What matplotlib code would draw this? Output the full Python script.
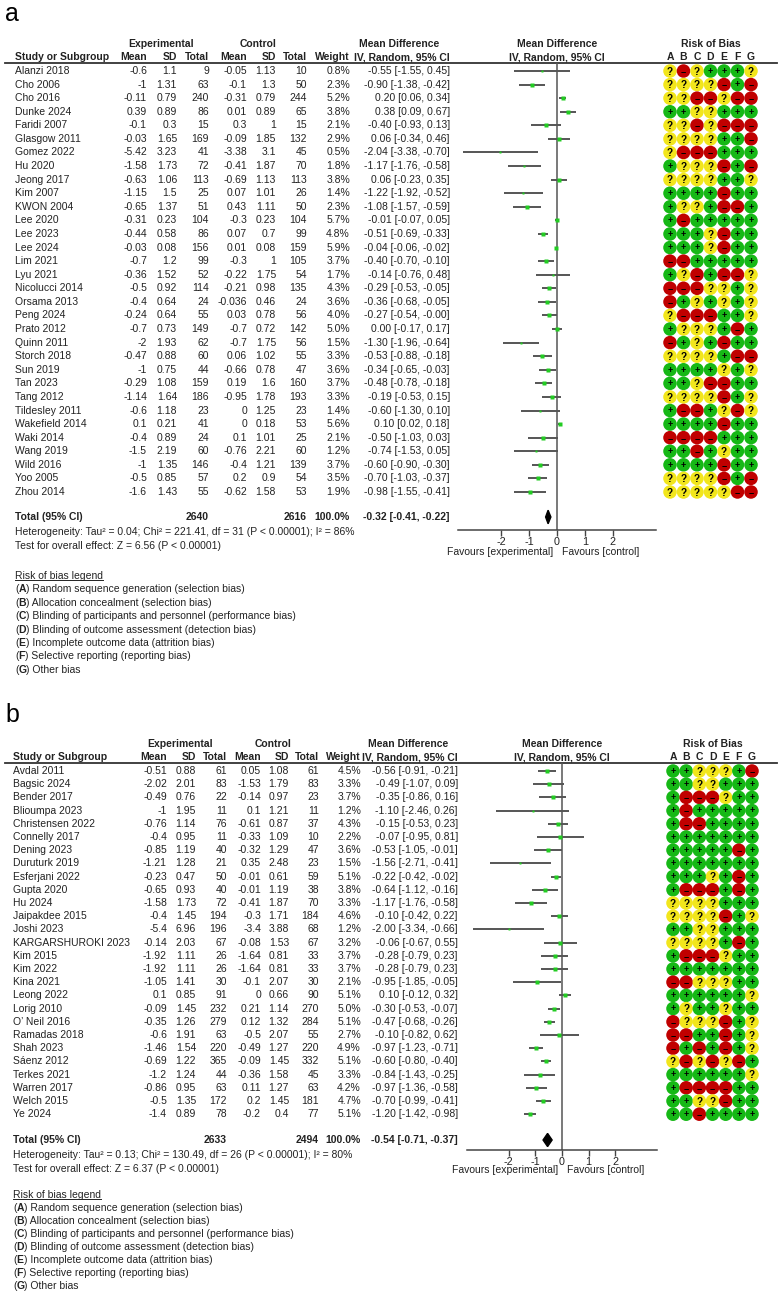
import numpy as np
import matplotlib
matplotlib.use("Agg")
import matplotlib.pyplot as plt
from matplotlib.patches import Polygon

plt.rcParams['font.family'] = ['Liberation Sans', 'DejaVu Sans']

W, H = 778, 1294
FS = 7.45
TXT = '#222222'

# ---------------- panel a data ----------------
a_study = ["Alanzi 2018", "Cho 2006", "Cho 2016", "Dunke 2024", "Faridi 2007", "Glasgow 2011",
           "Gomez 2022", "Hu 2020", "Jeong 2017", "Kim 2007", "KWON 2004", "Lee 2020", "Lee 2023",
           "Lee 2024", "Lim 2021", "Lyu 2021", "Nicolucci 2014", "Orsama 2013", "Peng 2024",
           "Prato 2012", "Quinn 2011", "Storch 2018", "Sun 2019", "Tan 2023", "Tang 2012",
           "Tildesley 2011", "Wakefield 2014", "Waki 2014", "Wang 2019", "Wild 2016", "Yoo 2005",
           "Zhou 2014"]
a_em = [-0.6, -1, -0.11, 0.39, -0.1, -0.03, -5.42, -1.58, -0.63, -1.15, -0.65, -0.31, -0.44,
        -0.03, -0.7, -0.36, -0.5, -0.4, -0.24, -0.7, -2, -0.47, -1, -0.29, -1.14, -0.6, 0.1,
        -0.4, -1.5, -1, -0.5, -1.6]
a_esd = [1.1, 1.31, 0.79, 0.89, 0.3, 1.65, 3.23, 1.73, 1.06, 1.5, 1.37, 0.23, 0.58, 0.08, 1.2,
         1.52, 0.92, 0.64, 0.64, 0.73, 1.93, 0.88, 0.75, 1.08, 1.64, 1.18, 0.21, 0.89, 2.19,
         1.35, 0.85, 1.43]
a_en = [9, 63, 240, 86, 15, 169, 41, 72, 113, 25, 51, 104, 86, 156, 99, 52, 114, 24, 55, 149,
        62, 60, 44, 159, 186, 23, 41, 24, 60, 146, 57, 55]
a_cm = [-0.05, -0.1, -0.31, 0.01, 0.3, -0.09, -3.38, -0.41, -0.69, 0.07, 0.43, -0.3, 0.07, 0.01,
        -0.3, -0.22, -0.21, -0.036, 0.03, -0.7, -0.7, 0.06, -0.66, 0.19, -0.95, 0, 0, 0.1,
        -0.76, -0.4, 0.2, -0.62]
a_csd = [1.13, 1.3, 0.79, 0.89, 1, 1.85, 3.1, 1.87, 1.13, 1.01, 1.11, 0.23, 0.7, 0.08, 1, 1.75,
         0.98, 0.46, 0.78, 0.72, 1.75, 1.02, 0.78, 1.6, 1.78, 1.25, 0.18, 1.01, 2.21, 1.21, 0.9,
         1.58]
a_cn = [10, 50, 244, 65, 15, 132, 45, 70, 113, 26, 50, 104, 99, 159, 105, 54, 135, 24, 56, 142,
        56, 55, 47, 160, 193, 23, 53, 25, 60, 139, 54, 53]
a_wt = [0.8, 2.3, 5.2, 3.8, 2.1, 2.9, 0.5, 1.8, 3.8, 1.4, 2.3, 5.7, 4.8, 5.9, 3.7, 1.7, 4.3, 3.6,
        4.0, 5.0, 1.5, 3.3, 3.6, 3.7, 3.3, 1.4, 5.6, 2.1, 1.2, 3.7, 3.5, 1.9]
a_md = [-0.55, -0.90, 0.20, 0.38, -0.40, 0.06, -2.04, -1.17, 0.06, -1.22, -1.08, -0.01, -0.51,
        -0.04, -0.40, -0.14, -0.29, -0.36, -0.27, 0.00, -1.30, -0.53, -0.34, -0.48, -0.19, -0.60,
        0.10, -0.50, -0.74, -0.60, -0.70, -0.98]
a_lo = [-1.55, -1.38, 0.06, 0.09, -0.93, -0.34, -3.38, -1.76, -0.23, -1.92, -1.57, -0.07, -0.69,
        -0.06, -0.70, -0.76, -0.53, -0.68, -0.54, -0.17, -1.96, -0.88, -0.65, -0.78, -0.53, -1.30,
        0.02, -1.03, -1.53, -0.90, -1.03, -1.55]
a_hi = [0.45, -0.42, 0.34, 0.67, 0.13, 0.46, -0.70, -0.58, 0.35, -0.52, -0.59, 0.05, -0.33, -0.02,
        -0.10, 0.48, -0.05, -0.05, -0.0, 0.17, -0.64, -0.18, -0.03, -0.18, 0.15, 0.10, 0.18, 0.03,
        0.05, -0.30, -0.37, -0.41]
a_rob = ["?-?+++?", "????-+-", "??--?--", "++??+++", "??-?---", "????++-", "?---+++", "+???-+-",
         "????++?", "++++-++", "+??+--+", "+-+++++", "+++?-++", "+++?-++", "--+++++", "+?-+--?",
         "---??+?", "-+?+?+?", "?---++?", "+???+-+", "-+?+-++", "????+--", "++++?+?", "++?--++",
         "????-+?", "+--+?-?", "++++-++", "----+++", "++-+?++", "++++-++", "????-+-", "?????--"]
a_total = (-0.32, -0.41, -0.22)
a_het = "Heterogeneity: Tau² = 0.04; Chi² = 221.41, df = 31 (P < 0.00001); I² = 86%"
a_test = "Test for overall effect: Z = 6.56 (P < 0.00001)"

# ---------------- panel b data ----------------
b_study = ["Avdal 2011", "Bagsic 2024", "Bender 2017", "Blioumpa 2023", "Christensen 2022",
           "Connelly 2017", "Dening 2023", "Duruturk 2019", "Esferjani 2022", "Gupta 2020",
           "Hu 2024", "Jaipakdee 2015", "Joshi 2023", "KARGARSHUROKI 2023", "Kim 2015", "Kim 2022",
           "Kina 2021", "Leong 2022", "Lorig 2010", "O’ Neil 2016", "Ramadas 2018", "Shah 2023",
           "Sáenz 2012", "Terkes 2021", "Warren 2017", "Welch 2015", "Ye 2024"]
b_em = [-0.51, -2.02, -0.49, -1, -0.76, -0.4, -0.85, -1.21, -0.23, -0.65, -1.58, -0.4, -5.4,
        -0.14, -1.92, -1.92, -1.05, 0.1, -0.09, -0.35, -0.6, -1.46, -0.69, -1.2, -0.86, -0.5, -1.4]
b_esd = [0.88, 2.01, 0.76, 1.95, 1.14, 0.95, 1.19, 1.28, 0.47, 0.93, 1.73, 1.45, 6.96, 2.03, 1.11,
         1.11, 1.41, 0.85, 1.45, 1.26, 1.91, 1.54, 1.22, 1.24, 0.95, 1.35, 0.89]
b_en = [61, 83, 22, 11, 76, 11, 40, 21, 50, 40, 72, 194, 196, 67, 26, 26, 30, 91, 232, 279, 63,
        220, 365, 44, 63, 172, 78]
b_cm = [0.05, -1.53, -0.14, 0.1, -0.61, -0.33, -0.32, 0.35, -0.01, -0.01, -0.41, -0.3, -3.4,
        -0.08, -1.64, -1.64, -0.1, 0, 0.21, 0.12, -0.5, -0.49, -0.09, -0.36, 0.11, 0.2, -0.2]
b_csd = [1.08, 1.79, 0.97, 1.21, 0.87, 1.09, 1.29, 2.48, 0.61, 1.19, 1.87, 1.71, 3.88, 1.53, 0.81,
         0.81, 2.07, 0.66, 1.14, 1.32, 2.07, 1.27, 1.45, 1.58, 1.27, 1.45, 0.4]
b_cn = [61, 83, 23, 11, 37, 10, 47, 23, 59, 38, 70, 184, 68, 67, 33, 33, 30, 90, 270, 284, 55,
        220, 332, 45, 63, 181, 77]
b_wt = [4.5, 3.3, 3.7, 1.2, 4.3, 2.2, 3.6, 1.5, 5.1, 3.8, 3.3, 4.6, 1.2, 3.2, 3.7, 3.7, 2.1, 5.1,
        5.0, 5.1, 2.7, 4.9, 5.1, 3.3, 4.2, 4.7, 5.1]
b_md = [-0.56, -0.49, -0.35, -1.10, -0.15, -0.07, -0.53, -1.56, -0.22, -0.64, -1.17, -0.10, -2.00,
        -0.06, -0.28, -0.28, -0.95, 0.10, -0.30, -0.47, -0.10, -0.97, -0.60, -0.84, -0.97, -0.70,
        -1.20]
b_lo = [-0.91, -1.07, -0.86, -2.46, -0.53, -0.95, -1.05, -2.71, -0.42, -1.12, -1.76, -0.42, -3.34,
        -0.67, -0.79, -0.79, -1.85, -0.12, -0.53, -0.68, -0.82, -1.23, -0.80, -1.43, -1.36, -0.99,
        -1.42]
b_hi = [-0.21, 0.09, 0.16, 0.26, 0.23, 0.81, -0.01, -0.41, -0.02, -0.16, -0.58, 0.22, -0.66, 0.55,
        0.23, 0.23, -0.05, 0.32, -0.07, -0.26, 0.62, -0.71, -0.40, -0.25, -0.58, -0.41, -0.98]
b_rob = ["++???+-", "++??+++", "+---?++", "+-+++++", "+--++++", "+++++++", "+++++-+", "+++++++",
         "+++?+-+", "+---+-+", "????+++", "????-+?", "++??+++", "????+-+", "+---?++", "+++++++",
         "--???++", "++++++?", "+?++?++", "-???-+?", "--++-+?", "-+-+-+?", "?-?-?-+", "++++++?",
         "+----++", "++??-++", "++-++++"]
b_total = (-0.54, -0.71, -0.37)
b_het = "Heterogeneity: Tau² = 0.13; Chi² = 130.49, df = 26 (P < 0.00001); I² = 80%"
b_test = "Test for overall effect: Z = 6.37 (P < 0.00001)"

rob_letters = ["A", "B", "C", "D", "E", "F", "G"]
legend_items = ["Random sequence generation (selection bias)",
                "Allocation concealment (selection bias)",
                "Blinding of participants and personnel (performance bias)",
                "Blinding of outcome assessment (detection bias)",
                "Incomplete outcome data (attrition bias)",
                "Selective reporting (reporting bias)",
                "Other bias"]

rob_col = {'+': '#16b816', '-': '#c00000', '?': '#f2e61c'}

fig = plt.figure(figsize=(W / 100, H / 100), dpi=100)


def fmt(v):
    return '{:g}'.format(v)


def ci(m, l, h):
    return '{:.2f} [{:.2f}, {:.2f}]'.format(m, l, h)


def panel(label, study, em, esd, en, cm, csd, cn, wt, md, lo, hi, rob, total, het, test, L):
    top, bot, y0, dy = L['top'], L['bot'], L['y0'], L['dy']
    rv = lambda px: (px - y0) / dy
    ax = fig.add_axes([0, 1 - bot / H, 1, (bot - top) / H])
    ax.set_xlim(0, W)
    ax.set_ylim(rv(bot), rv(top))
    ax.axis('off')
    c = L['cols']
    n = len(study)

    ax.text(5, rv(L['lab']), label, fontsize=18, color='black', va='baseline')

    # headers
    hy1, hy2 = rv(L['h1']), rv(L['h2'])
    kw = dict(fontsize=FS, color=TXT, fontweight='bold', va='center')
    ax.text(c['exp_c'], hy1, "Experimental", ha='center', **kw)
    ax.text(c['ctl_c'], hy1, "Control", ha='center', **kw)
    ax.text(c['md_c'], hy1, "Mean Difference", ha='center', **kw)
    ax.text(c['ci'], hy2, "IV, Random, 95% CI", ha='right', **kw)
    ax.text(L['zero'], hy1, "Mean Difference", ha='center', **kw)
    ax.text(L['zero'], hy2, "IV, Random, 95% CI", ha='center', **kw)
    ax.text(c['rob0'] + 3 * c['robd'], hy1, "Risk of Bias", ha='center', **kw)
    ax.text(c['study'], hy2, "Study or Subgroup", ha='left', **kw)
    for key, lab in [('em', 'Mean'), ('esd', 'SD'), ('en', 'Total'), ('cm', 'Mean'),
                     ('csd', 'SD'), ('cn', 'Total'), ('wt', 'Weight')]:
        ax.text(c[key], hy2, lab, ha='right', **kw)
    for j, l in enumerate(rob_letters):
        ax.text(c['rob0'] + j * c['robd'], hy2, l, ha='center', **kw)
    ax.plot([5, W - 1], [rv(L['line'])] * 2, color='#333333', lw=1.3)

    # study rows
    kw = dict(fontsize=FS, color=TXT, va='center')
    for i in range(n):
        ax.text(c['study'], i, study[i], ha='left', **kw)
        ax.text(c['em'], i, fmt(em[i]), ha='right', **kw)
        ax.text(c['esd'], i, fmt(esd[i]), ha='right', **kw)
        ax.text(c['en'], i, str(en[i]), ha='right', **kw)
        ax.text(c['cm'], i, fmt(cm[i]), ha='right', **kw)
        ax.text(c['csd'], i, fmt(csd[i]), ha='right', **kw)
        ax.text(c['cn'], i, str(cn[i]), ha='right', **kw)
        ax.text(c['wt'], i, '{:.1f}%'.format(wt[i]), ha='right', **kw)
        ax.text(c['ci'], i, ci(md[i], lo[i], hi[i]), ha='right', **kw)

    # risk of bias circles
    for i in range(n):
        for j, r in enumerate(rob[i]):
            x = c['rob0'] + j * c['robd']
            ax.scatter(x, i, s=95, color=rob_col[r], edgecolor='none', zorder=3)
            if r == '?':
                ax.text(x, i + 0.05, '?', ha='center', va='center', fontsize=7.2,
                        fontweight='bold', color='black', zorder=4)
            else:
                ax.text(x, i + 0.03, '+' if r == '+' else '−', ha='center', va='center',
                        fontsize=6.5, fontweight='bold', color='black', zorder=4)

    # totals
    ty = rv(L['tot'])
    kwb = dict(fontsize=FS, color=TXT, va='center', fontweight='bold')
    ax.text(c['study'], ty, "Total (95% CI)", ha='left', **kwb)
    ax.text(c['en'], ty, str(sum(en)), ha='right', **kwb)
    ax.text(c['cn'], ty, str(sum(cn)), ha='right', **kwb)
    ax.text(c['wt'], ty, "100.0%", ha='right', **kwb)
    ax.text(c['ci'], ty, ci(*total), ha='right', **kwb)
    ax.text(c['study'], rv(L['het']), het, ha='left', **kw)
    ax.text(c['study'], rv(L['test']), test, ha='left', **kw)

    # favours
    fy = rv(L['fav'])
    ax.text(L['zero'] - 4, fy, "Favours [experimental]", ha='right', **kw)
    ax.text(L['zero'] + 5, fy, "Favours [control]", ha='left', **kw)

    # legend
    ly = rv(L['leg'])
    t = ax.text(c['study'], ly, "Risk of bias legend", ha='left', **kw)
    fig.canvas.draw()
    bb = t.get_window_extent().transformed(ax.transData.inverted())
    ax.plot([bb.x0, bb.x1], [bb.y0 - 0.05] * 2, color=TXT, lw=0.7)
    for k, (l, s) in enumerate(zip(rob_letters, legend_items)):
        yk = ly + (k + 1) * L['legd'] / dy
        t1 = ax.text(c['study'], yk, "(", ha='left', **kw)
        t2 = ax.annotate(l, xy=(1, 0), xycoords=t1, va='bottom', ha='left', fontsize=FS,
                         color=TXT, fontweight='bold')
        ax.annotate(") " + s, xy=(1, 0), xycoords=t2, va='bottom', ha='left', fontsize=FS,
                    color=TXT)

    # forest plot
    scale = L['scale']
    xr = 3.57
    fx0 = L['zero'] - xr * scale
    fax = fig.add_axes([fx0 / W, 1 - L['axis'] / H, 2 * xr * scale / W,
                        (L['axis'] - L['line']) / H])
    fax.set_xlim(-xr, xr)
    fax.set_ylim(rv(L['axis']), rv(L['line']))
    fax.patch.set_alpha(0)
    for s in ['top', 'left', 'right']:
        fax.spines[s].set_visible(False)
    fax.spines['bottom'].set_color('#444444')
    fax.spines['bottom'].set_linewidth(1.1)
    fax.set_yticks([])
    fax.set_xticks([-2, -1, 0, 1, 2])
    fax.set_xticklabels(['-2', '-1', '0', '1', '2'])
    fax.tick_params(axis='x', length=4, width=1, color='#444444', labelsize=FS + 0.3,
                    labelcolor=TXT, pad=1)
    fax.axvline(0, color='#555555', lw=1.1)
    yy = np.arange(n)
    fax.hlines(yy, lo, hi, color='#555555', lw=1.4)
    for i in range(n):
        fax.plot(md[i], i, 's', color='#22cc22', ms=1.6 + 0.3 * wt[i], mec='none')
    m, l, h = total
    fax.add_patch(Polygon([(l, ty), (m, ty - 0.5), (h, ty), (m, ty + 0.5)],
                          closed=True, color='black'))


La = dict(top=0, bot=690, y0=71, dy=13.58, lab=21, h1=44, h2=57, line=63, tot=517, het=532,
          test=546, axis=530, fav=552, leg=576, legd=13.4, zero=557, scale=27.8,
          cols=dict(study=15, em=147, esd=177, en=209, cm=247, csd=276, cn=307, wt=350,
                    ci=450, exp_c=161, ctl_c=258, md_c=399, rob0=670, robd=13.5))
Lb = dict(top=695, bot=1294, y0=771, dy=13.2, lab=722, h1=744, h2=757, line=763, tot=1140,
          het=1155, test=1169, axis=1150, fav=1170, leg=1195, legd=13.0, zero=562, scale=26.7,
          cols=dict(study=13, em=167, esd=196, en=227, cm=261, csd=289, cn=319, wt=361,
                    ci=458, exp_c=180, ctl_c=273, md_c=408, rob0=673, robd=13.17))

panel("a", a_study, a_em, a_esd, a_en, a_cm, a_csd, a_cn, a_wt, a_md, a_lo, a_hi, a_rob,
      a_total, a_het, a_test, La)
panel("b", b_study, b_em, b_esd, b_en, b_cm, b_csd, b_cn, b_wt, b_md, b_lo, b_hi, b_rob,
      b_total, b_het, b_test, Lb)

fig.savefig("out.png", dpi=100)
